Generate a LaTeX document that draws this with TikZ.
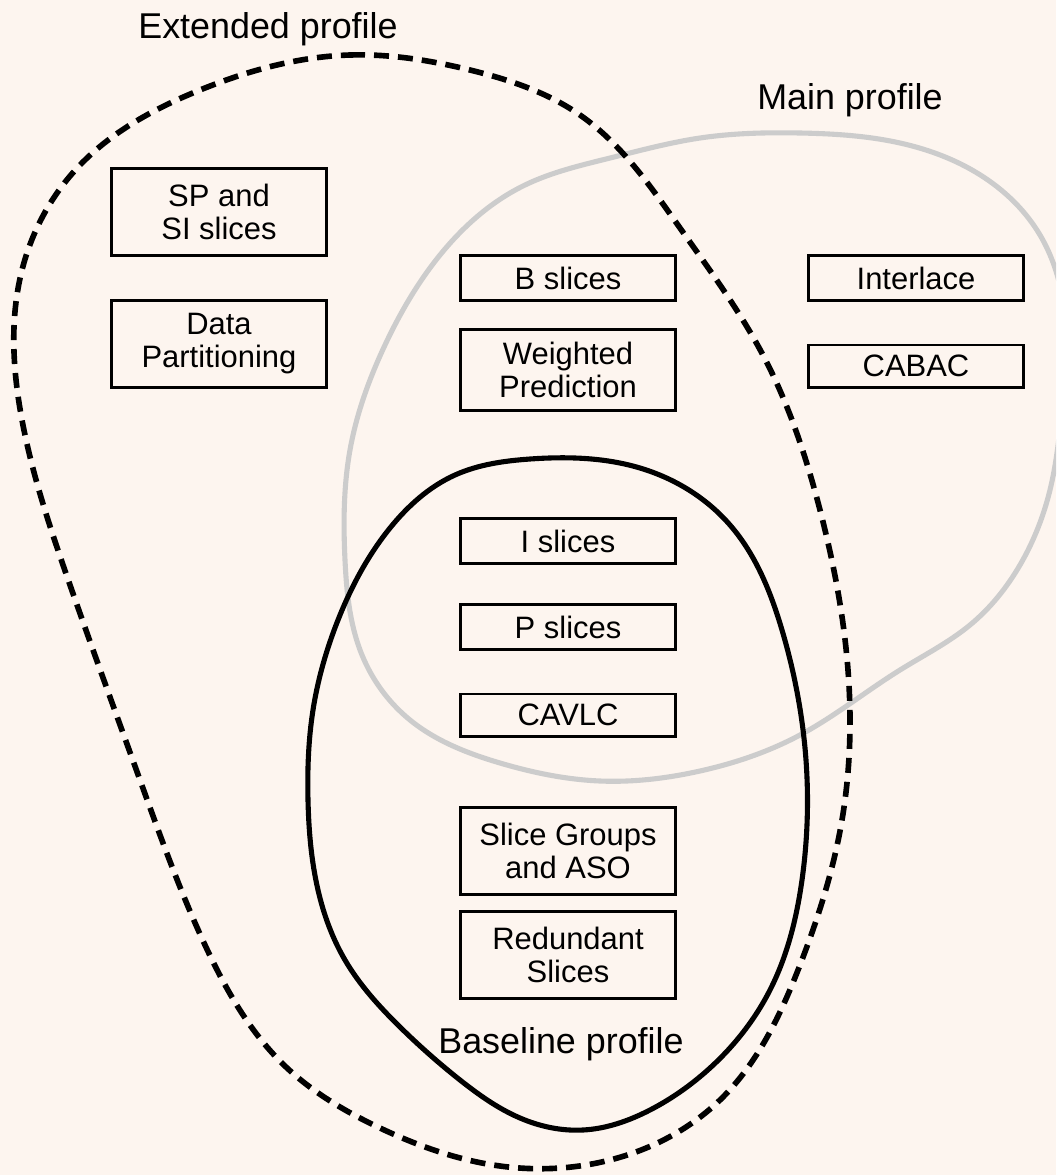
\documentclass[tikz,border=0pt]{standalone}
\usepackage{fontspec}
\setmainfont{Liberation Sans}
\usepackage{tikz}
\usetikzlibrary{hobby}
\definecolor{bgpink}{RGB}{253,245,239}
\definecolor{mainfg}{RGB}{204,204,204}
\tikzset{feat/.style = {draw, line width = 0.85pt, align = center, inner sep = 0,
    minimum width = 2.15cm, font = \fontsize{8.8}{9.4}\selectfont}}
\tikzset{proflbl/.style = {anchor = base, inner sep = 0, font = \fontsize{10.2}{12}\selectfont}}

\begin{document}
\begin{tikzpicture}[x = 0.01cm, y = -0.01cm, use Hobby shortcut]
      \useasboundingbox (0, 0) rectangle (1056, 1175);
      \clip (0, 0) rectangle (1056, 1175);
      \fill[bgpink] (0, 0) rectangle (1056, 1175);

      \draw[mainfg, line width = 1.45pt, closed = true]
        (700, 138) .. (800, 133) .. (900, 143) .. (985, 178) .. (1040, 235) .. (1066, 330)
        .. (1062, 410) .. (1050, 490) .. (1020, 565) .. (970, 625) .. (900, 670) .. (800, 735)
        .. (700, 771) .. (600, 781) .. (500, 763) .. (410, 720) .. (362, 655) .. (345, 560)
        .. (350, 450) .. (385, 345) .. (440, 255) .. (525, 185) .. (610, 158);

      \draw[line width = 1.45pt, closed = true]
        (530, 459) .. (640, 468) .. (730, 525) .. (782, 630) .. (806, 760) .. (802, 880)
        .. (770, 990) .. (710, 1068) .. (650, 1110) .. (583, 1130) .. (520, 1118) .. (460, 1080)
        .. (400, 1027) .. (345, 960) .. (318, 890) .. (308, 800) .. (313, 710) .. (338, 620)
        .. (390, 528) .. (455, 475);

      \draw[line width = 1.6pt, dash pattern = on 0.15cm off 0.09cm, closed = true]
        (350, 55) .. (470, 70) .. (580, 115) .. (680, 228) .. (764, 357) .. (820, 510)
        .. (848, 670) .. (842, 820) .. (800, 965) .. (720, 1100) .. (610, 1160) .. (500, 1166)
        .. (380, 1128) .. (286, 1067) .. (205, 945) .. (140, 780) .. (70, 585) .. (22, 420)
        .. (22, 270) .. (80, 165) .. (200, 90);

      \node[proflbl] (lblext) at (268, 38) {Extended profile};
      \node[proflbl] (lblmain) at (850, 109) {Main profile};
      \node[proflbl] (lblbase) at (561, 1053) {Baseline profile};

      \node[feat, minimum height = 0.86cm] (spsi) at (219, 212) {SP and\\SI slices};
      \node[feat, minimum height = 0.86cm] (datapart) at (219, 344) {Data\\Partitioning};

      \node[feat, minimum height = 0.45cm] (bsl) at (568, 278) {B slices};
      \node[feat, minimum height = 0.80cm] (wpred) at (568, 370) {Weighted\\Prediction};
      \node[feat, minimum height = 0.45cm] (intl) at (916, 278) {Interlace};
      \node[feat, minimum height = 0.42cm] (cabac) at (916, 366) {CABAC};

      \node[feat, minimum height = 0.45cm] (isl) at (568, 541) {I slices};
      \node[feat, minimum height = 0.45cm] (psl) at (568, 627) {P slices};
      \node[feat, minimum height = 0.42cm] (cavlc) at (568, 715) {CAVLC};
      \node[feat, minimum height = 0.86cm] (sgaso) at (568, 851) {Slice Groups\\and ASO};
      \node[feat, minimum height = 0.86cm] (redsl) at (568, 955) {Redundant\\Slices};
    \end{tikzpicture}
\end{document}
